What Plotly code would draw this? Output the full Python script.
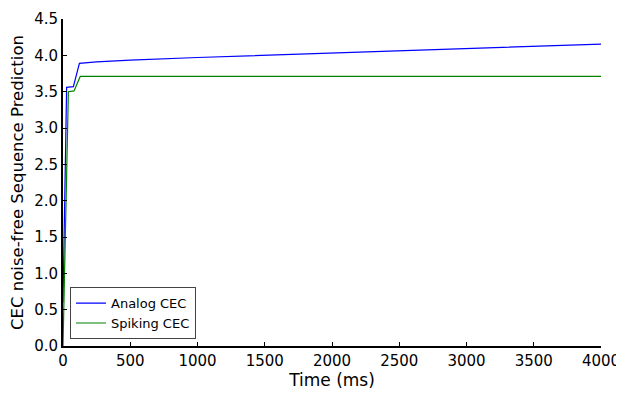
import plotly.graph_objects as go

analog_t = [0, 27, 77, 122, 250, 500, 1000, 1500, 2000, 2500, 3000, 3500, 4000]
analog_v = [0.6, 3.56, 3.57, 3.89, 3.91, 3.935, 3.97, 4.0, 4.03, 4.065, 4.095, 4.125, 4.155]
spiking_t = [0, 40, 82, 128, 4000]
spiking_v = [0.0, 3.5, 3.51, 3.71, 3.71]

x_ticks = [0, 500, 1000, 1500, 2000, 2500, 3000, 3500, 4000]
y_ticks = [0.0, 0.5, 1.0, 1.5, 2.0, 2.5, 3.0, 3.5, 4.0, 4.5]

fig = go.Figure()
fig.add_trace(go.Scatter(x=analog_t, y=analog_v, mode="lines", name="Analog CEC",
                         line=dict(color="#0000ff", width=1.2)))
fig.add_trace(go.Scatter(x=spiking_t, y=spiking_v, mode="lines", name="Spiking CEC",
                         line=dict(color="#008000", width=1.2)))

font = "DejaVu Sans, sans-serif"
fig.update_layout(
    width=616, height=387,
    margin=dict(l=55, r=23, t=11, b=49),
    plot_bgcolor="white", paper_bgcolor="white",
    font=dict(family=font, color="black", size=14),
    showlegend=True,
    legend=dict(x=0.013, y=0.021, xanchor="left", yanchor="bottom",
                bordercolor="#444444", borderwidth=1, bgcolor="white",
                font=dict(size=13), itemwidth=30, tracegroupgap=0),
    xaxis=dict(range=[0, 4000], tickvals=x_ticks, ticktext=[str(v) for v in x_ticks],
               ticks="inside", ticklen=4, tickcolor="black", showgrid=False,
               zeroline=False, showline=True, linecolor="black", linewidth=2,
               automargin=False,
               title=dict(text="Time (ms)", font=dict(size=17), standoff=4),
               tickfont=dict(size=15)),
    yaxis=dict(range=[0, 4.5], tickvals=y_ticks, ticktext=[f"{v:.1f}" for v in y_ticks],
               ticks="inside", ticklen=4, tickcolor="black", showgrid=False,
               zeroline=False, showline=True, linecolor="black", linewidth=2,
               automargin=False,
               title=dict(text="CEC noise-free Sequence Prediction", font=dict(size=16.5), standoff=8),
               tickfont=dict(size=15)),
)
fig.write_html("out.html")
